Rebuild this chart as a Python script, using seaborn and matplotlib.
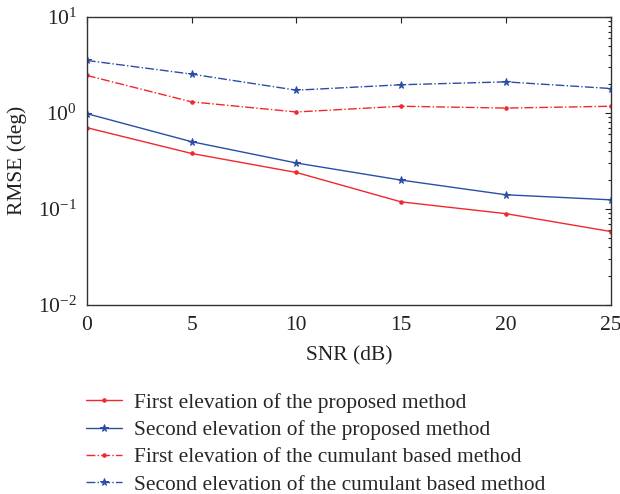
import matplotlib
matplotlib.use("Agg")
import matplotlib.pyplot as plt
import seaborn as sns
import numpy as np
from matplotlib.ticker import LogLocator, NullFormatter

snr = [0, 5, 10, 15, 20, 25]
first_proposed = [0.70, 0.377, 0.239, 0.118, 0.089, 0.058]
second_proposed = [0.98, 0.50, 0.30, 0.199, 0.14, 0.124]
first_cumulant = [2.45, 1.30, 1.02, 1.17, 1.12, 1.17]
second_cumulant = [3.51, 2.53, 1.72, 1.96, 2.10, 1.79]
labels = ["First elevation of the proposed method",
          "Second elevation of the proposed method",
          "First elevation of the cumulant based method",
          "Second elevation of the cumulant based method"]

sns.set_style("white")
plt.rcParams['font.family'] = ['Liberation Serif', 'DejaVu Serif']
plt.rcParams['mathtext.fontset'] = 'stix'

red = "#f0282d"
blue = "#2a4ea6"

fig = plt.figure(figsize=(6.2, 4.94), dpi=100)
ax = fig.add_axes([0.140, 0.383, 0.845, 0.583])

series = [first_proposed, second_proposed, first_cumulant, second_cumulant]
colors = [red, blue, red, blue]
styles = ['-', '-', '-.', '-.']
markers = ['.', '*', '.', '*']
msizes = [5, 5.5, 5, 5.5]
for ys, c, ls, m, ms, lab in zip(series, colors, styles, markers, msizes, labels):
    sns.lineplot(x=snr, y=ys, ax=ax, color=c, linestyle=ls, marker=m,
                 markersize=ms, markeredgecolor=c, markerfacecolor=c,
                 linewidth=1.0, label=lab, legend=False)

ax.set_yscale('log')
ax.set_ylim(1e-2, 1e1)
ax.set_xlim(0, 25)
ax.set_xticks(snr)
ax.yaxis.set_major_locator(LogLocator(base=10, numticks=10))
ax.yaxis.set_minor_locator(LogLocator(base=10, subs=np.arange(2, 10), numticks=10))
ax.yaxis.set_minor_formatter(NullFormatter())
ax.tick_params(axis='both', which='both', direction='in', top=True, right=True,
               labelsize=15.5, color='#222222', labelcolor='#222222')
ax.tick_params(axis='x', which='major', pad=8)
ax.tick_params(axis='y', which='major', pad=7)
ax.tick_params(which='major', length=4, width=0.8)
ax.tick_params(which='minor', length=2.5, width=0.8)
for s in ax.spines.values():
    s.set_color('#333333')
    s.set_linewidth(1.0)
ax.set_xlabel("SNR (dB)", fontsize=15.5, color='#222222', labelpad=8)
ax.set_ylabel("RMSE (deg)", fontsize=15.5, color='#222222', labelpad=8)

handles, labs = ax.get_legend_handles_labels()
fig.legend(handles, labs, loc='upper left', bbox_to_anchor=(0.125, 0.222),
           frameon=False, fontsize=15.4, handlelength=1.7, handletextpad=0.55,
           labelspacing=0.34, borderaxespad=0)

fig.savefig("out.png", dpi=100)
